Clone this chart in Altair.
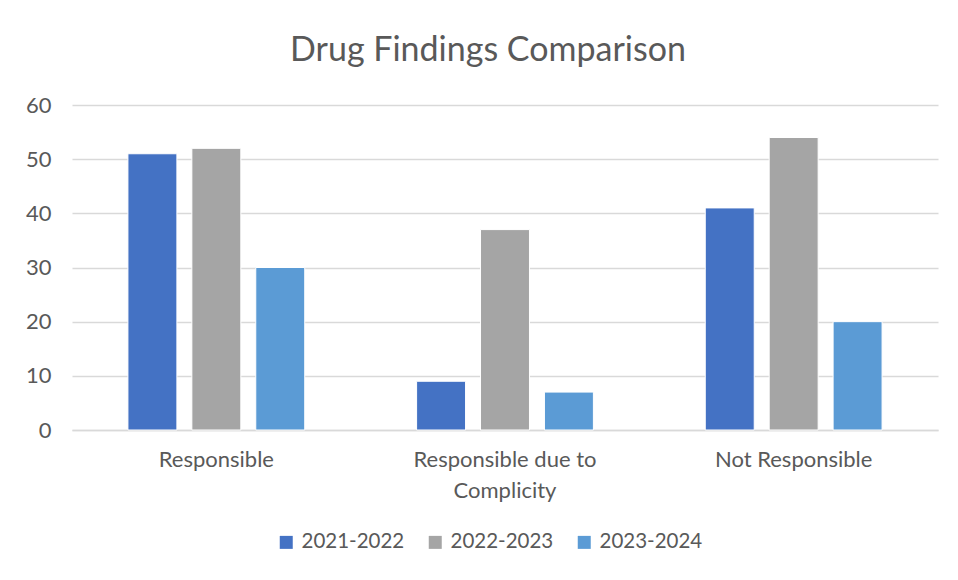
import altair as alt
import pandas as pd

categories = ["Responsible", "Responsible due to Complicity", "Not Responsible"]
series = ["2021-2022", "2022-2023", "2023-2024"]
values_2021 = [51, 9, 41]
values_2022 = [52, 37, 54]
values_2023 = [30, 7, 20]
colors = ["#4472C4", "#A5A5A5", "#5B9BD5"]

rows = []
for s, vals in zip(series, [values_2021, values_2022, values_2023]):
    for c, v in zip(categories, vals):
        rows.append({"Category": c, "Year": s, "Value": v})
df = pd.DataFrame(rows)

FONT = "Lato"
TXT = "#595959"

chart = alt.Chart(df).mark_bar(stroke="white", strokeWidth=1).encode(
    x=alt.X("Category:N", sort=categories, title=None,
            scale=alt.Scale(paddingInner=0, paddingOuter=0),
            axis=alt.Axis(labelAngle=0, labelFontSize=22, labelColor=TXT, labelFont=FONT,
                          labelPadding=19, ticks=False, domainColor="#D9D9D9", domainWidth=1.5,
                          labelLimit=300, labelLineHeight=31,
                          labelExpr="datum.label == 'Responsible due to Complicity' ? ['Responsible due to', 'Complicity'] : datum.label")),
    xOffset=alt.XOffset("Year:N", sort=series,
                        scale=alt.Scale(paddingInner=0.234, paddingOuter=0.875)),
    y=alt.Y("Value:Q", title=None,
            scale=alt.Scale(domain=[0, 60]),
            axis=alt.Axis(values=[0, 10, 20, 30, 40, 50, 60], labelFontSize=22, labelColor=TXT,
                          labelFont=FONT, labelPadding=21, ticks=False, domain=False,
                          gridColor="#D9D9D9", gridWidth=1.5)),
    color=alt.Color("Year:N", sort=series, title=None,
                    scale=alt.Scale(domain=series, range=colors),
                    legend=alt.Legend(orient="none", legendX=204, legendY=427, direction="horizontal",
                                      symbolType="square", symbolSize=169, symbolStrokeWidth=0,
                                      labelFontSize=20.5, labelColor=TXT, labelFont=FONT,
                                      columnPadding=20, labelOffset=5)),
).properties(
    width=866, height=325,
    title=alt.TitleParams("Drug Findings Comparison", fontSize=34, font=FONT, color=TXT,
                          fontWeight="normal", offset=26, anchor="middle", dx=-17),
    autosize=alt.AutoSizeParams(type="none"),
    padding={"left": 64, "top": 97, "right": 4, "bottom": 136},
).configure_view(stroke=None)

chart.save("out.html", embed_options={"renderer": "svg", "actions": False})
